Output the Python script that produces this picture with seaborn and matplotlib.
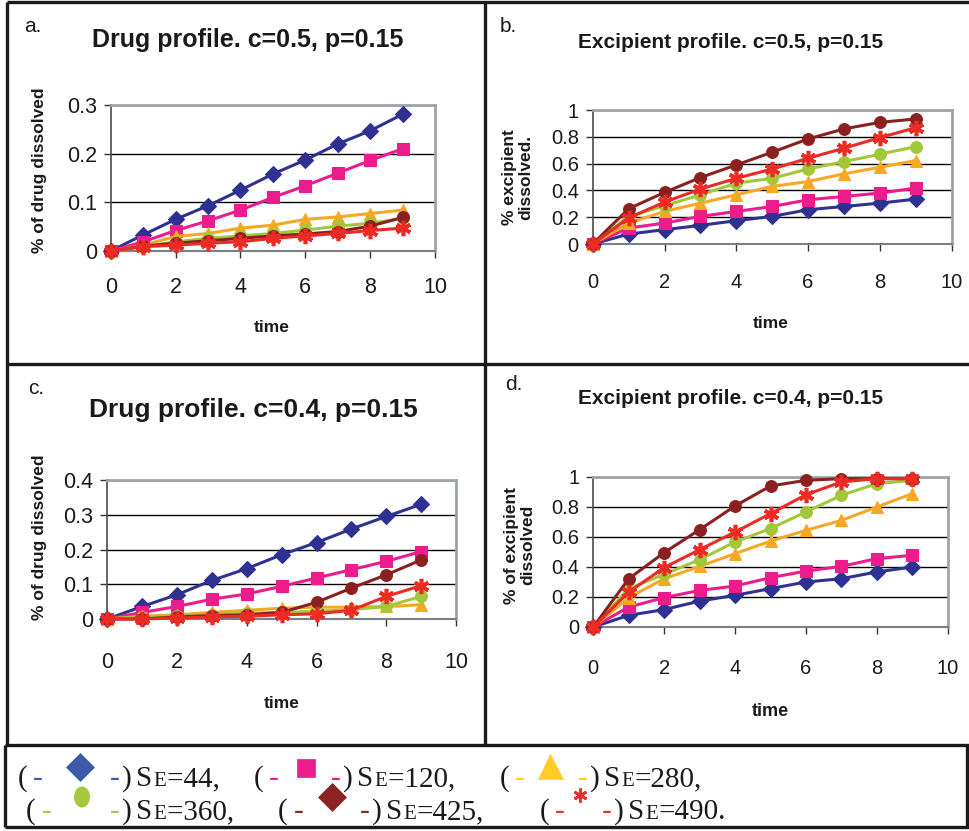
import matplotlib
matplotlib.use("Agg")
import matplotlib.pyplot as plt
import seaborn as sns
from matplotlib import font_manager
from matplotlib.lines import Line2D
from matplotlib.patches import Ellipse

# ---------------- data ----------------
time = [0, 1, 2, 3, 4, 5, 6, 7, 8, 9]
series_names = ["SE=44", "SE=120", "SE=280", "SE=360", "SE=425", "SE=490"]

# a. Drug profile c=0.5
a_se44 = [0, 0.033, 0.065, 0.093, 0.125, 0.158, 0.187, 0.220, 0.247, 0.281]
a_se120 = [0, 0.019, 0.042, 0.062, 0.084, 0.110, 0.134, 0.160, 0.186, 0.210]
a_se280 = [0, 0.012, 0.030, 0.036, 0.047, 0.053, 0.065, 0.070, 0.077, 0.084]
a_se360 = [0, 0.009, 0.019, 0.026, 0.031, 0.036, 0.043, 0.051, 0.057, 0.067]
a_se425 = [0, 0.010, 0.016, 0.021, 0.026, 0.031, 0.035, 0.040, 0.051, 0.069]
a_se490 = [0, 0.009, 0.012, 0.016, 0.019, 0.026, 0.031, 0.036, 0.042, 0.047]

# b. Excipient profile c=0.5
b_se44 = [0, 0.074, 0.107, 0.139, 0.174, 0.206, 0.256, 0.280, 0.305, 0.335]
b_se120 = [0, 0.119, 0.156, 0.206, 0.243, 0.280, 0.330, 0.355, 0.380, 0.417]
b_se280 = [0, 0.156, 0.243, 0.305, 0.367, 0.430, 0.466, 0.524, 0.573, 0.623]
b_se360 = [0, 0.206, 0.285, 0.367, 0.454, 0.490, 0.560, 0.615, 0.670, 0.727]
b_se425 = [0, 0.263, 0.385, 0.496, 0.590, 0.685, 0.784, 0.859, 0.908, 0.933]
b_se490 = [0, 0.194, 0.313, 0.410, 0.490, 0.560, 0.640, 0.715, 0.794, 0.868]

# c. Drug profile c=0.4
c_se44 = [0, 0.036, 0.070, 0.111, 0.145, 0.185, 0.220, 0.259, 0.295, 0.330]
c_se120 = [0, 0.019, 0.036, 0.057, 0.072, 0.094, 0.118, 0.142, 0.166, 0.194]
c_se280 = [0, 0.008, 0.012, 0.019, 0.025, 0.031, 0.034, 0.034, 0.036, 0.041]
c_se360 = [0, 0.006, 0.010, 0.012, 0.017, 0.019, 0.022, 0.027, 0.036, 0.065]
c_se425 = [0, 0.000, 0.006, 0.010, 0.012, 0.019, 0.048, 0.089, 0.127, 0.170]
c_se490 = [0, 0.000, 0.003, 0.006, 0.008, 0.012, 0.015, 0.025, 0.065, 0.096]

# d. Excipient profile c=0.4
d_se44 = [0, 0.078, 0.116, 0.173, 0.211, 0.256, 0.300, 0.322, 0.367, 0.400]
d_se120 = [0, 0.133, 0.196, 0.244, 0.273, 0.329, 0.373, 0.404, 0.456, 0.478]
d_se280 = [0, 0.196, 0.322, 0.404, 0.489, 0.573, 0.644, 0.711, 0.800, 0.889]
d_se360 = [0, 0.256, 0.351, 0.449, 0.567, 0.656, 0.767, 0.878, 0.956, 0.978]
d_se425 = [0, 0.322, 0.496, 0.649, 0.807, 0.940, 0.978, 0.989, 0.989, 0.989]
d_se490 = [0, 0.233, 0.396, 0.516, 0.633, 0.756, 0.882, 0.967, 0.989, 0.989]

x_ticks = [0, 2, 4, 6, 8, 10]
x_ticklabels = ["0", "2", "4", "6", "8", "10"]
drug_a_ticks = [0, 0.1, 0.2, 0.3]
drug_a_ticklabels = ["0", "0.1", "0.2", "0.3"]
drug_c_ticks = [0, 0.1, 0.2, 0.3, 0.4]
drug_c_ticklabels = ["0", "0.1", "0.2", "0.3", "0.4"]
exc_ticks = [0, 0.2, 0.4, 0.6, 0.8, 1.0]
exc_ticklabels = ["0", "0.2", "0.4", "0.6", "0.8", "1"]

titles = ["Drug profile. c=0.5, p=0.15", "Excipient profile. c=0.5, p=0.15",
          "Drug profile. c=0.4, p=0.15", "Excipient profile. c=0.4, p=0.15"]
panel_letters = ["a.", "b.", "c.", "d."]
legend_numbers = ["44", "120", "280", "360", "425", "490"]

# ---------------- style ----------------
colors = ["#2E3192", "#EC1C8C", "#F7A823", "#A2C83A", "#8B2020", "#EE2A24"]
markers = ["D", "s", "^", "o", "o", (6, 2, 0)]
msizes = [8, 8, 9, 8.5, 8.5, 11]
legend_colors = ["#3B5BA9", "#EC1C8C", "#FFCC29", "#A6C93C", "#8B2323", "#E8312F"]

sns.set_theme(style="white")
available = {f.name for f in font_manager.fontManager.ttflist}
SANS = "Liberation Sans" if "Liberation Sans" in available else "DejaVu Sans"
SERIF = "Liberation Serif" if "Liberation Serif" in available else "DejaVu Serif"
plt.rcParams["font.family"] = [SANS, "DejaVu Sans"]

W, H = 969, 831
fig = plt.figure(figsize=(W / 100, H / 100), dpi=100)
fig.patch.set_facecolor("white")


def fx(px):
    return px / W


def fy(py):
    return 1 - py / H


def add_axes(l, r, t, b):
    return fig.add_axes([fx(l), fy(b), fx(r) - fx(l), (b - t) / H])


panels = [
    dict(rect=(110.7, 435, 105, 251), data=[a_se44, a_se120, a_se280, a_se360, a_se425, a_se490],
         ylim=0.3, yt=drug_a_ticks, ytl=drug_a_ticklabels, xpad=14, fs=15.5),
    dict(rect=(592.7, 951.7, 110, 244), data=[b_se44, b_se120, b_se280, b_se360, b_se425, b_se490],
         ylim=1.0, yt=exc_ticks, ytl=exc_ticklabels, xpad=16, fs=14.5),
    dict(rect=(107.3, 456, 480, 619), data=[c_se44, c_se120, c_se280, c_se360, c_se425, c_se490],
         ylim=0.4, yt=drug_c_ticks, ytl=drug_c_ticklabels, xpad=19, fs=15.5),
    dict(rect=(593.3, 947.7, 477, 627), data=[d_se44, d_se120, d_se280, d_se360, d_se425, d_se490],
         ylim=1.0, yt=exc_ticks, ytl=exc_ticklabels, xpad=18, fs=14.5),
]

for p in panels:
    ax = add_axes(*p["rect"])
    ax.set_facecolor("white")
    for i, ys in enumerate(p["data"]):
        is_star = i == 5
        sns.lineplot(x=time, y=ys, ax=ax, color=colors[i], lw=2.2,
                     marker=markers[i], markersize=msizes[i],
                     markeredgecolor=colors[i], markerfacecolor=colors[i],
                     markeredgewidth=2.6 if is_star else 0.8, clip_on=False, zorder=3 + i)
    ax.set_xlim(0, 10)
    ax.set_ylim(0, p["ylim"])
    ax.set_xticks(x_ticks)
    ax.set_xticklabels(x_ticklabels, fontsize=p["fs"])
    ax.set_yticks(p["yt"])
    ax.set_yticklabels(p["ytl"], fontsize=p["fs"])
    ax.grid(axis="y", color="black", lw=1.0)
    ax.grid(axis="x", visible=False)
    ax.set_axisbelow(True)
    for s in ["top", "right"]:
        ax.spines[s].set_color("#A0A4A8")
        ax.spines[s].set_linewidth(2.0)
    ax.spines["left"].set_color("#4A4A4A")
    ax.spines["left"].set_linewidth(1.2)
    ax.spines["bottom"].set_color("#7A8088")
    ax.spines["bottom"].set_linewidth(1.5)
    ax.tick_params(axis="both", direction="out", length=5, width=1.0, color="#333333",
                   labelcolor="#1A1A1A", bottom=True, left=True)
    ax.tick_params(axis="x", pad=p["xpad"])
    ax.tick_params(axis="y", pad=5)
    ax.set_xlabel("")
    ax.set_ylabel("")

# titles and panel letters
fig.text(fx(248), fy(40), titles[0], fontsize=18, fontweight="bold", ha="center", va="center", color="#1A1A1A")
fig.text(fx(731), fy(42), titles[1], fontsize=15, fontweight="bold", ha="center", va="center", color="#1A1A1A")
fig.text(fx(253), fy(410), titles[2], fontsize=19, fontweight="bold", ha="center", va="center", color="#1A1A1A")
fig.text(fx(731), fy(398), titles[3], fontsize=15, fontweight="bold", ha="center", va="center", color="#1A1A1A")

fig.text(fx(24), fy(27), panel_letters[0], fontsize=15, ha="left", va="center", color="#1A1A1A")
fig.text(fx(500), fy(27), panel_letters[1], fontsize=15, ha="left", va="center", color="#1A1A1A")
fig.text(fx(28), fy(388), panel_letters[2], fontsize=15, ha="left", va="center", color="#1A1A1A")
fig.text(fx(505), fy(384), panel_letters[3], fontsize=15, ha="left", va="center", color="#1A1A1A")

# axis labels
fig.text(fx(40), fy(170), "% of drug dissolved", rotation=90, fontsize=12.5, fontweight="bold",
         ha="center", va="center", color="#1A1A1A")
fig.text(fx(518), fy(177), "% excipient\ndissolved.", rotation=90, fontsize=12.5, fontweight="bold",
         ha="center", va="center", color="#1A1A1A", linespacing=1.1)
fig.text(fx(40), fy(537), "% of drug dissolved", rotation=90, fontsize=12.5, fontweight="bold",
         ha="center", va="center", color="#1A1A1A")
fig.text(fx(520), fy(545), "% of excipient\ndissolved", rotation=90, fontsize=12.5, fontweight="bold",
         ha="center", va="center", color="#1A1A1A", linespacing=1.1)

fig.text(fx(272), fy(327), "time", fontsize=12.5, fontweight="bold", ha="center", va="center", color="#1A1A1A")
fig.text(fx(771), fy(323), "time", fontsize=12.5, fontweight="bold", ha="center", va="center", color="#1A1A1A")
fig.text(fx(282), fy(703), "time", fontsize=12.5, fontweight="bold", ha="center", va="center", color="#1A1A1A")
fig.text(fx(770), fy(712), "time", fontsize=13, fontweight="bold", ha="center", va="center", color="#1A1A1A")

# frame lines
frame_kw = dict(color="#1A1A1A", lw=2.4, transform=fig.transFigure, solid_capstyle="butt")
for (x0, y0, x1, y1) in [(7, 2, 969, 2), (7, 2, 7, 745), (485, 2, 485, 745), (7, 364, 969, 364),
                         (5, 745, 969, 745), (5, 745, 5, 827), (5, 827, 969, 827), (967, 745, 967, 827)]:
    fig.add_artist(Line2D([fx(x0), fx(x1)], [fy(y0), fy(y1)], **frame_kw))

# ---------------- legend box content ----------------
fig.canvas.draw()
renderer = fig.canvas.get_renderer()
LEG_FS = 21
TXT = dict(fontfamily=SERIF, color="#1A1A1A", va="baseline", ha="left")


def put_text(x, yb, s, **kw):
    kwargs = dict(TXT, fontsize=LEG_FS)
    kwargs.update(kw)
    t = fig.text(fx(x), fy(yb), s, **kwargs)
    return x + t.get_window_extent(renderer=renderer).width


def put_label(x, yb, num, tail):
    x = put_text(x, yb, "S")
    x = put_text(x + 1, yb, "E", fontsize=15)
    put_text(x + 1, yb, "=" + num + tail)


def put_marker(i, xc, yc):
    c = legend_colors[i]
    if i == 3:
        fig.add_artist(Ellipse((fx(xc), fy(yc)), 16 / W, 21 / H, transform=fig.transFigure,
                               facecolor=c, edgecolor="none"))
        return
    spec = {0: dict(marker="D", ms=14), 1: dict(marker="s", ms=13), 2: dict(marker="^", ms=18),
            4: dict(marker="D", ms=14), 5: dict(marker=(6, 2, 0), ms=10, mew=2.0)}[i]
    fig.add_artist(Line2D([fx(xc)], [fy(yc)], transform=fig.transFigure, ls="none",
                          marker=spec["marker"], markersize=spec["ms"], color=c,
                          markeredgecolor=c, markerfacecolor=c,
                          markeredgewidth=spec.get("mew", 0.5)))


# (x of "(", x of first dash, marker centre, x of second dash, x of ")", x of label)
legend_layout = [
    (0, 786, 767, (18, 33, 80, 110, 122, 136), ", "),
    (1, 786, 768, (254, 269, 306, 331, 343, 357), ", "),
    (2, 786, 766, (500, 515, 550, 578, 590, 604), ","),
    (3, 819, 797, (26, 42, 82, 110, 122, 136), ", "),
    (4, 819, 797, (278, 294, 332, 360, 372, 386), ","),
    (5, 819, 795, (540, 555, 580, 602, 614, 628), "."),
]

for i, yb, ym, xs, tail in legend_layout:
    c = legend_colors[i]
    put_text(xs[0], yb, "(")
    put_text(xs[1], yb, "-", color=c)
    put_marker(i, xs[2], ym)
    put_text(xs[3], yb, "-", color=c)
    put_text(xs[4], yb, ")")
    put_label(xs[5], yb, legend_numbers[i], tail)

fig.savefig("out.png", dpi=100, facecolor="white")
